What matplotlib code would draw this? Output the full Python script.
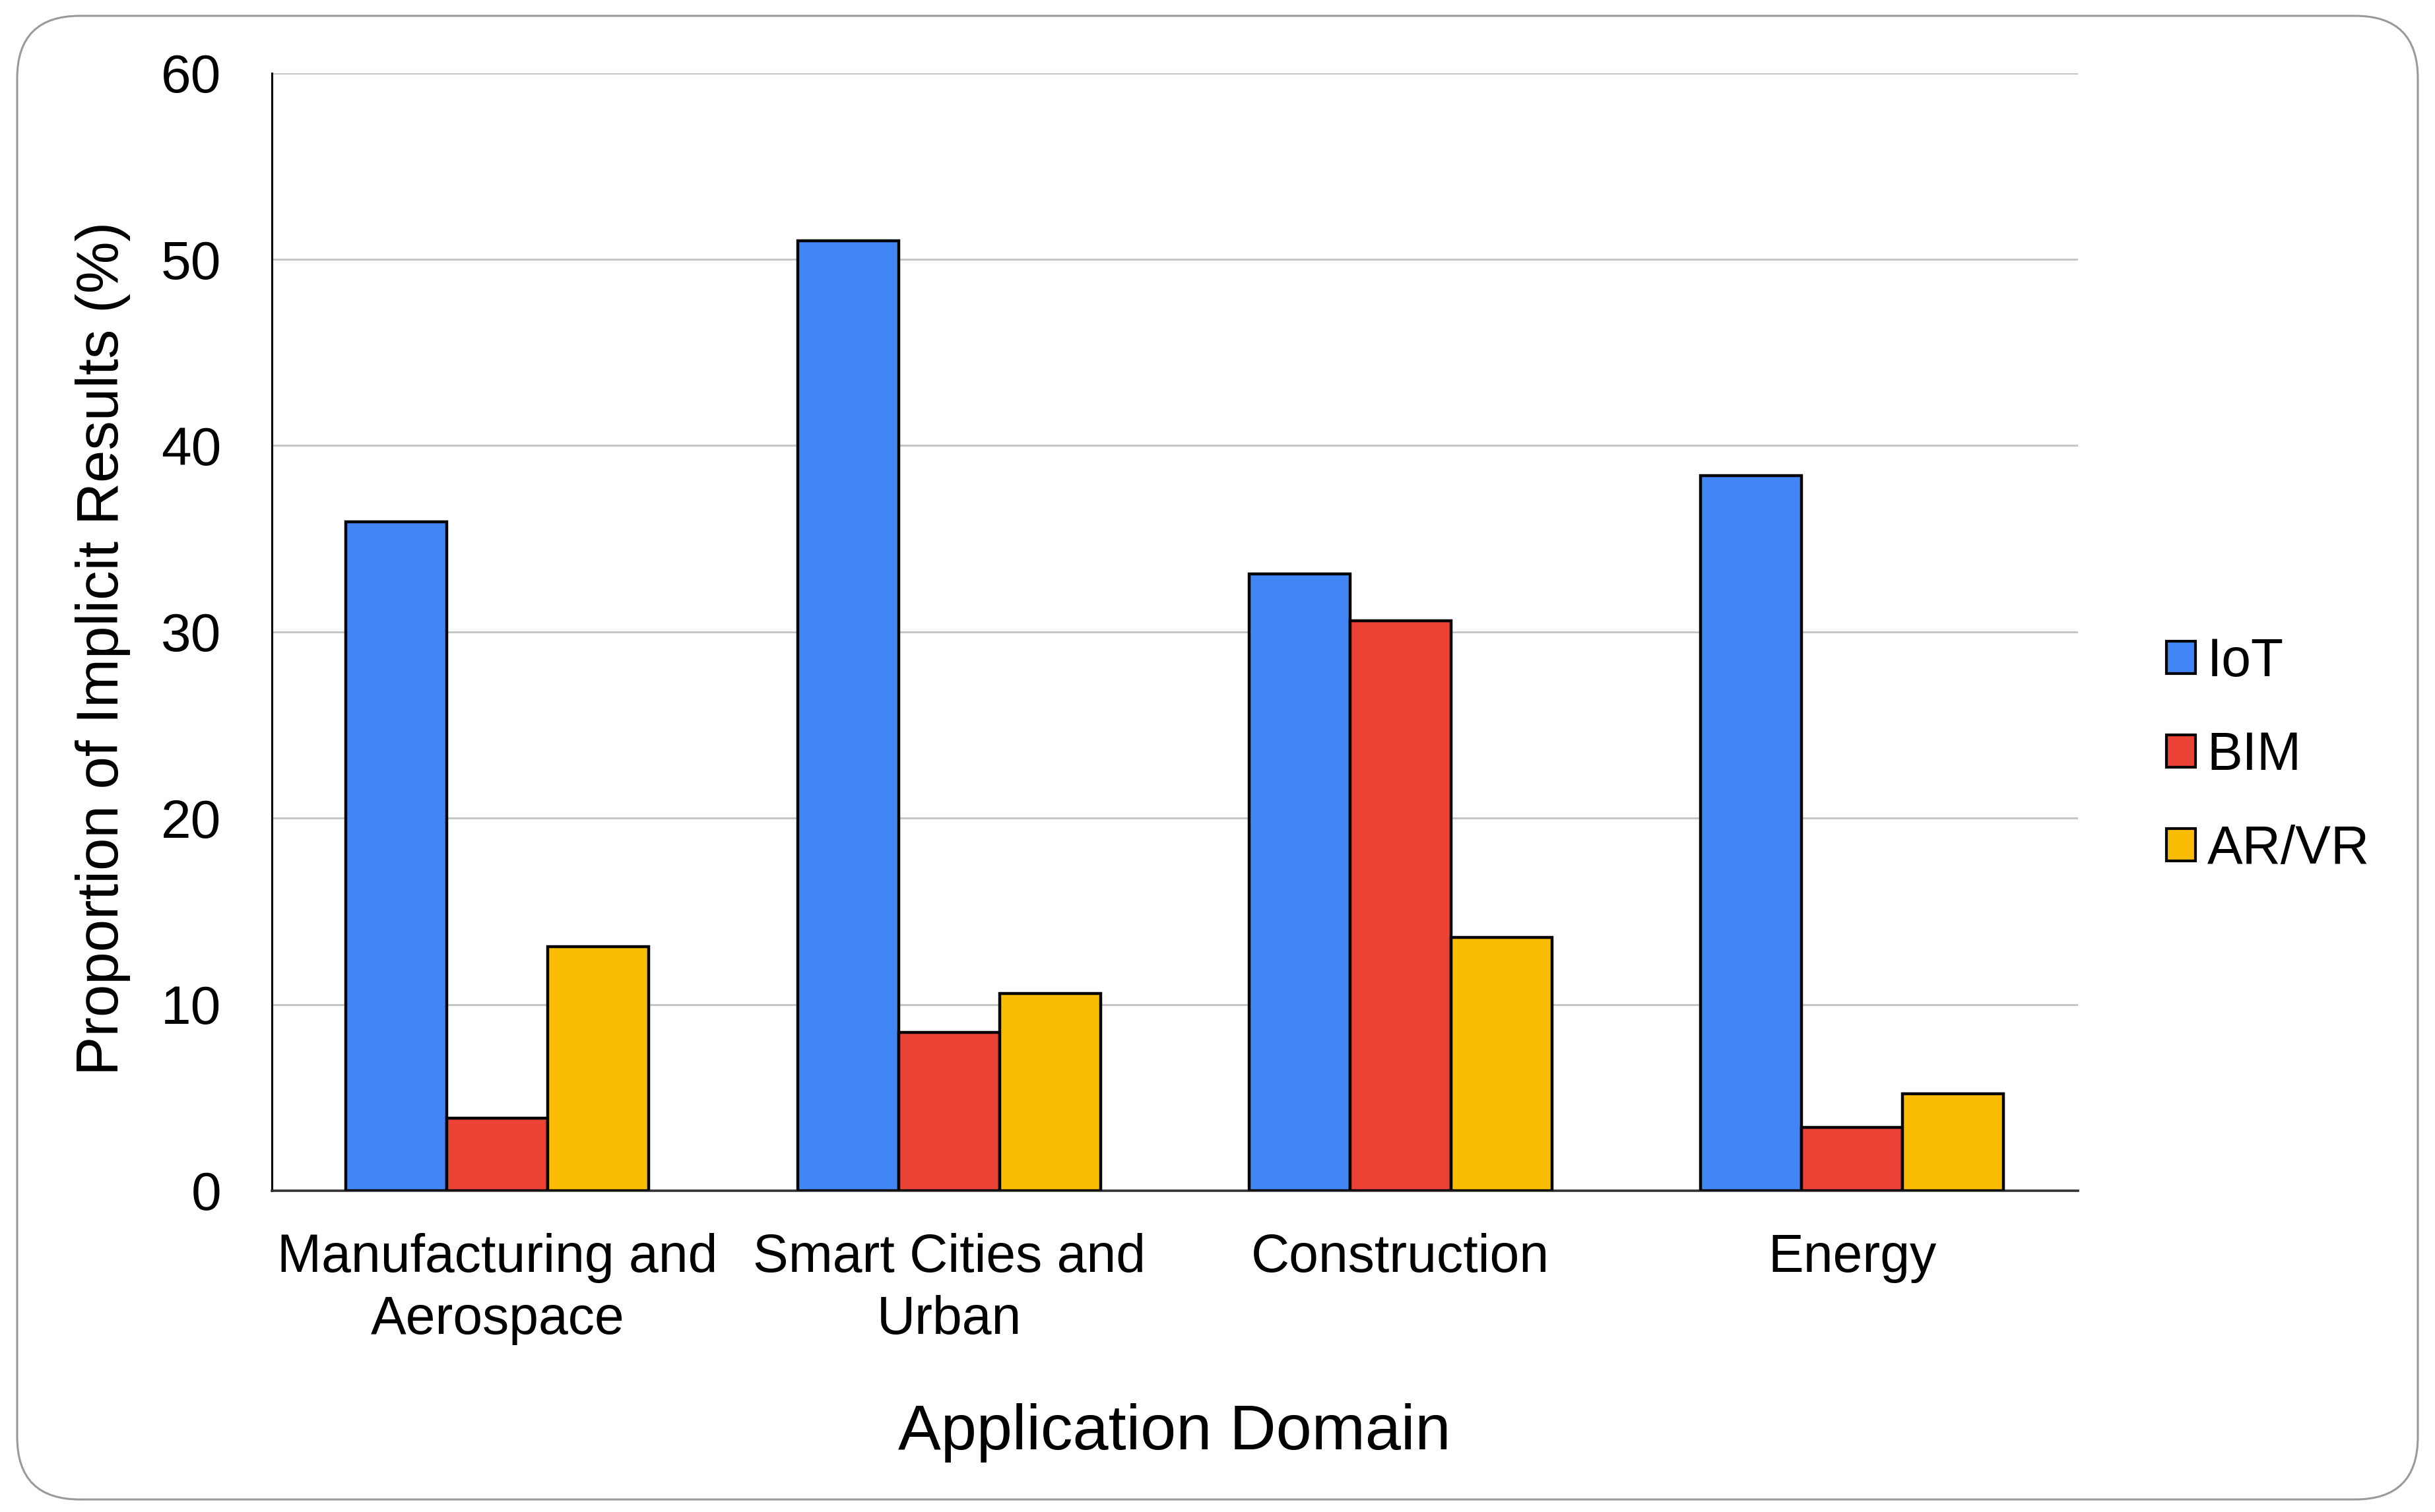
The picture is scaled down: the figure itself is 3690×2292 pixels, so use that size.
import matplotlib
matplotlib.use("Agg")
import matplotlib.pyplot as plt
import numpy as np
from matplotlib.patches import FancyBboxPatch, Patch
from matplotlib.transforms import IdentityTransform

plt.rcParams['font.family'] = ['Liberation Sans', 'DejaVu Sans']

categories = ["Manufacturing and\nAerospace", "Smart Cities and\nUrban", "Construction", "Energy"]
series_names = ["IoT", "BIM", "AR/VR"]
iot = [35.9, 51.0, 33.1, 38.4]
bim = [3.9, 8.5, 30.6, 3.4]
arvr = [13.1, 10.6, 13.6, 5.2]
colors = ["#4285F4", "#EA4335", "#FBBC04"]
yticks = [0, 10, 20, 30, 40, 50, 60]

W, H, DPI = 3690, 2292, 100
fig = plt.figure(figsize=(W / DPI, H / DPI), dpi=DPI)
fig.patch.set_facecolor("white")

# rounded outer border
border = FancyBboxPatch((26, 19), 3638, 2249, boxstyle="round,pad=0,rounding_size=95",
                        transform=IdentityTransform(), facecolor="none",
                        edgecolor="#9a9a9a", linewidth=2.2)
fig.patches.append(border)

ax = fig.add_axes([0.1116, 0.2125, 0.8533 - 0.1116, 0.9517 - 0.2125])

x = np.arange(len(categories))
bw = 0.2236
for i, (vals, c, name) in enumerate(zip([iot, bim, arvr], colors, series_names)):
    ax.bar(x + (i - 1) * bw, vals, width=bw, color=c, edgecolor="black",
           linewidth=3.2, label=name, zorder=3)

ax.set_xlim(-0.5, len(categories) - 0.5)
ax.set_ylim(0, 60)
ax.set_yticks(yticks)
ax.set_yticklabels([str(t) for t in yticks])
ax.set_xticks(x)
ax.set_xticklabels(categories, fontsize=58, linespacing=1.3)
ax.tick_params(axis='y', labelsize=59, length=0, pad=55)
ax.tick_params(axis='x', length=0, pad=46)

ax.grid(axis='y', color="#c6c6c6", linewidth=2.2, zorder=0)
ax.set_axisbelow(True)
for s in ["top", "right"]:
    ax.spines[s].set_visible(False)
ax.spines["left"].set_color("black")
ax.spines["left"].set_linewidth(2.2)
ax.spines["bottom"].set_color("#333333")
ax.spines["bottom"].set_linewidth(2.6)

ax.set_xlabel("Application Domain", fontsize=70)
ax.xaxis.set_label_coords(0.5, -0.19)
ax.set_ylabel("Proportion of Implicit Results (%)", fontsize=64)
ax.yaxis.set_label_coords(-0.078, 0.485)

handles = [Patch(facecolor=c, edgecolor="black", linewidth=3.0) for c in colors]
leg = fig.legend(handles, series_names, loc="center left", bbox_to_anchor=(0.87, 0.5),
                 frameon=False, fontsize=58, handlelength=0.55, handleheight=0.55,
                 handletextpad=0.22, labelspacing=0.82)

fig.savefig("out.png", dpi=DPI, facecolor="white")
